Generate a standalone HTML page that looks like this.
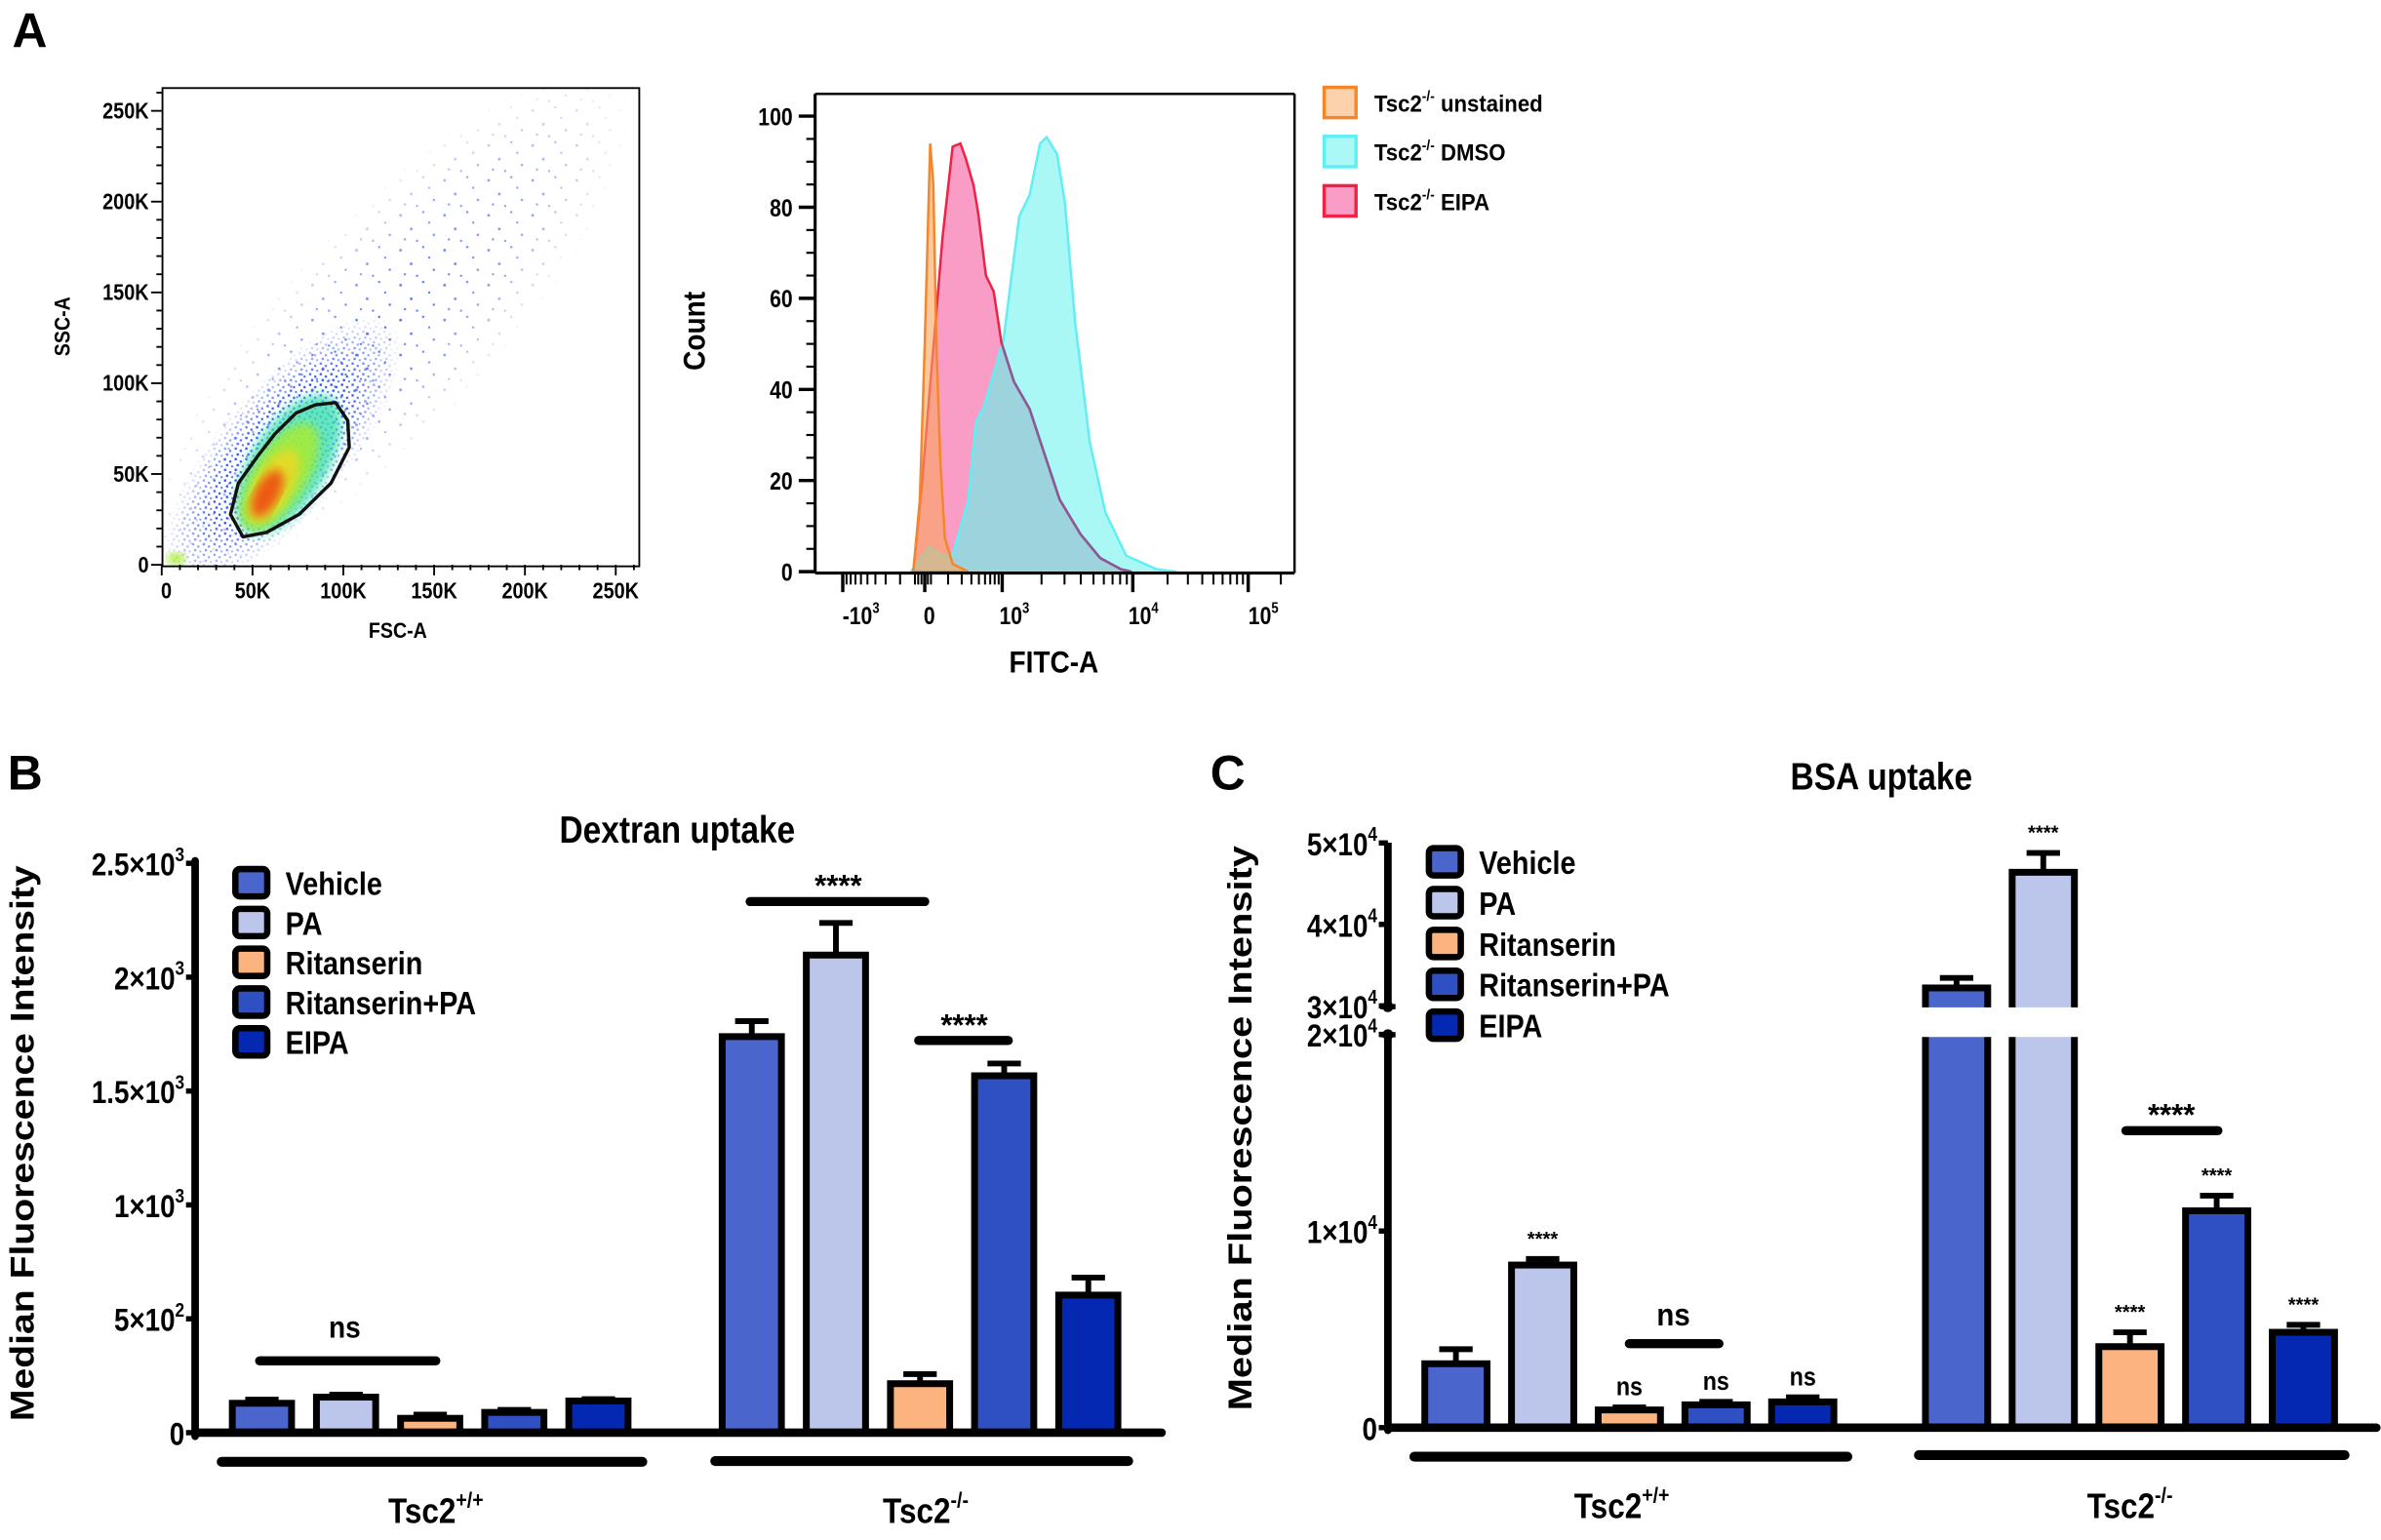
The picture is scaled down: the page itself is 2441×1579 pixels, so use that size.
<!DOCTYPE html>
<html><head><meta charset="utf-8"><style>
html,body{margin:0;padding:0;background:#fff;}
svg{display:block;}
text{font-family:"Liberation Sans",Arial,sans-serif;font-weight:bold;fill:#000;}
</style></head><body>
<svg id="fig" xmlns="http://www.w3.org/2000/svg" viewBox="0 0 1568 1014.3" width="2441" height="1579" preserveAspectRatio="none">
<defs>
<pattern id="densePat" width="7" height="7" patternUnits="userSpaceOnUse">
<rect x="0.5" y="0.7" width="1.5" height="1.5" fill="#2a4cf5"/><rect x="3.9" y="2.3" width="1.4" height="1.4" fill="#2a4cf5"/><rect x="1.8" y="4.6" width="1.5" height="1.5" fill="#2a4cf5"/><rect x="5.3" y="5.6" width="1.2" height="1.2" fill="#3c5cff"/>
</pattern>
<pattern id="sparsePat" width="29" height="23" patternUnits="userSpaceOnUse">
<rect x="2" y="3" width="1.6" height="1.6" fill="#2a4cf5"/><rect x="17" y="1" width="1.4" height="1.4" fill="#2a4cf5"/><rect x="9" y="12" width="1.6" height="1.6" fill="#2a4cf5"/><rect x="24" y="16" width="1.4" height="1.4" fill="#2a4cf5"/><rect x="5" y="19" width="1.3" height="1.3" fill="#2a4cf5"/><rect x="21" y="8" width="1.3" height="1.3" fill="#2a4cf5"/><rect x="13" y="20" width="1.3" height="1.3" fill="#2a4cf5"/>
</pattern>
<radialGradient id="fadeG"><stop offset="0" stop-color="#fff"/><stop offset="0.55" stop-color="#fff"/><stop offset="1" stop-color="#000"/></radialGradient>
<radialGradient id="fadeG2"><stop offset="0" stop-color="#ddd"/><stop offset="0.6" stop-color="#888"/><stop offset="1" stop-color="#000"/></radialGradient>
<mask id="denseMask"><ellipse cx="0" cy="0" rx="112" ry="42" fill="url(#fadeG)" transform="translate(186,297) rotate(-50)"/></mask>
<mask id="sparseMask"><ellipse cx="0" cy="0" rx="225" ry="70" fill="url(#fadeG2)" transform="translate(255,215) rotate(-47)"/></mask>
<filter id="blur3"><feGaussianBlur stdDeviation="3"/></filter>
<clipPath id="scatClip"><rect x="107" y="58" width="314" height="315"/></clipPath>
</defs>
</svg>
<script>
// ---------------- DATA ----------------
const histUnstainedX=[-0.14,-0.06,0,0.07,0.11,0.15,0.20,0.26,0.36,0.56];
const histUnstainedY=[0,15.8,50,94,85,50,24.5,7.3,1.7,0];
const histEipaX=[-0.14,-0.03,0.03,0.16,0.23,0.36,0.46,0.53,0.63,0.69,0.79,0.89,0.99,1.09,1.21,1.33,1.44,1.60,1.75,1.91,1.99];
const histEipaY=[0,20,33,59,73.5,93.3,94,90.7,84.8,78.7,65,61.5,50.3,41.7,35.7,25.3,15.8,8.2,3,0.5,0];
const histDmsoX=[-0.17,-0.04,0.06,0.18,0.27,0.36,0.56,0.66,0.76,1.01,1.13,1.21,1.29,1.34,1.42,1.48,1.56,1.67,1.79,1.95,2.21,2.38];
const histDmsoY=[0,3,5.5,4,3.5,3.6,15.6,33,36,51,78,82.7,94,95.4,91.7,81,54.3,28.5,13,3.5,0.5,0];
const histYTicks=[0,20,40,60,80,100];
const scatTicks=[0,50,100,150,200,250];
const scatTickLabels=['0','50K','100K','150K','200K','250K'];
const barCategories=['Vehicle','PA','Ritanserin','Ritanserin+PA','EIPA'];
const barColors=['#4a66cc','#bcc6ea','#fbb37f','#2f50c2','#0428b2'];
const dexWT=[129,156,63,89,139];
const dexWTerr=[16,11,16,11,8];
const dexKO=[1739,2097,215,1567,604];
const dexKOerr=[68,141,42,54,77];
const dexTicks=[0,500,1000,1500,2000,2500];
const dexTickBase=['0','5×10','1×10','1.5×10','2×10','2.5×10'];
const dexTickExp=['','2','3','3','3','3'];
const bsaWT=[3250,8270,900,1160,1310];
const bsaWTerr=[740,310,130,150,230];
const bsaKO=[32200,46400,4120,11030,4850];
const bsaKOerr=[1230,2370,730,770,380];
const bsaTicks=[0,10000,20000,30000,40000,50000];
const bsaTickBase=['0','1×10','2×10','3×10','4×10','5×10'];
const bsaTickExp=['','4','4','4','4','4'];
const bsaWTmarks=['','****','ns','ns','ns'];
const bsaKOmarks=['','****','****','****','****'];

// ---------------- HELPERS ----------------
const NS='http://www.w3.org/2000/svg';
const svg=document.getElementById('fig');
function mk(tag,a,p){const e=document.createElementNS(NS,tag);for(const k in a)e.setAttribute(k,a[k]);(p||svg).appendChild(e);return e;}
function txt(x,y,s,size,anchor,sx,sup,rest,rot){
  const g=mk('g',{transform:`translate(${x},${y})`+(rot?` rotate(${rot})`:'')+` scale(${sx},1)`});
  const t=mk('text',{x:0,y:0,'font-size':size,'text-anchor':anchor},g);
  t.appendChild(document.createTextNode(s));
  if(sup){const ts=mk('tspan',{dy:-size*0.45,'font-size':size*0.62},t);ts.textContent=sup;}
  if(rest){const tr=mk('tspan',{dy:size*0.45},t);tr.textContent=rest;}
  return g;
}
function line(x1,y1,x2,y2,w,c,cap){return mk('line',{x1,y1,x2,y2,stroke:c||'#000','stroke-width':w,'stroke-linecap':cap||'butt'});}

let g=txt(8,31,'A',32,'start',1);



// ---------------- SCATTER ----------------
const sx0=106.5, sy0=372, sPer=59.8/50;
const sX=v=>sx0+v*sPer, sY=v=>sy0-v*sPer;
const scat=mk('g',{'clip-path':'url(#scatClip)'});


mk('rect',{x:0,y:0,width:600,height:420,fill:'url(#sparsePat)',mask:'url(#sparseMask)'},scat);
mk('rect',{x:0,y:0,width:600,height:420,fill:'url(#densePat)',mask:'url(#denseMask)'},scat);
mk('ellipse',{cx:0,cy:0,rx:52,ry:25,fill:'#3ee0b0',opacity:0.8,filter:'url(#blur3)',transform:'translate(190,306) rotate(-58)'},scat);
mk('ellipse',{cx:0,cy:0,rx:40,ry:18,fill:'#a8ec30',opacity:0.85,filter:'url(#blur3)',transform:'translate(184,314) rotate(-58)'},scat);
mk('ellipse',{cx:0,cy:0,rx:27,ry:12,fill:'#f0d820',opacity:0.85,filter:'url(#blur3)',transform:'translate(180,320) rotate(-60)'},scat);
mk('ellipse',{cx:0,cy:0,rx:17,ry:8,fill:'#f03a10',opacity:0.8,filter:'url(#blur3)',transform:'translate(176,325) rotate(-62)'},scat);
mk('ellipse',{cx:116,cy:368,rx:6,ry:4,fill:'#a8ec30',filter:'url(#blur3)'},scat);
mk('rect',{x:107,y:58,width:314,height:315,fill:'none',stroke:'#000','stroke-width':1.2});
const gate=mk('path',{d:'M160,353.6 L151.8,338.8 L157,318.2 L170,300 L181,285.8 L195,272 L207.7,266.6 L221,265.2 L229,277 L230,294.6 L218,318.2 L197,338.8 L175.7,350.6 Z',fill:'none',stroke:'#111','stroke-width':2.2,'stroke-linejoin':'round'});


for(let v=0;v<=260;v+=10){
  const major=v%50===0;
  line(sx0-(major?7:3.5),sY(v),sx0,sY(v),1.2);
  line(sX(v),sy0,sX(v),sy0+(major?7:3.5),1.2);
}
scatTicks.forEach((v,i)=>{
  const a=txt(98,sY(v)+5,scatTickLabels[i],15,'end',0.85);
  
  
  const b=txt(sX(v)+(i===0?3:0),394,scatTickLabels[i],15,'middle',0.85);
  
  
});
g=txt(262,420,'FSC-A',14,'middle',0.9);


g=txt(46,215,'SSC-A',14,'middle',0.9,null,null,-90);



// ---------------- HISTOGRAM ----------------
const KU=[-1,0,1,2,3], KP=[555,609,660,746,822];
function xH(u){let i=0;if(u>=KU[3])i=3;else if(u>=KU[2])i=2;else if(u>=KU[1])i=1;else i=0;return KP[i]+(u-KU[i])*(KP[i+1]-KP[i]);}
const yH=c=>376.5-3*c;
function areaPath(xs,ys){let d=`M${xH(xs[0])},${yH(0)}`;xs.forEach((u,i)=>{d+=` L${xH(u)},${yH(ys[i])}`});d+=` L${xH(xs[xs.length-1])},${yH(0)} Z`;return d;}
function linePath(xs,ys){return xs.map((u,i)=>(i?'L':'M')+xH(u)+','+yH(ys[i])).join(' ');}
const defs=svg.querySelector('defs');
const cp=mk('clipPath',{id:'dmsoClip'},defs);
mk('path',{d:areaPath(histDmsoX,histDmsoY)},cp);
let h=mk('path',{d:areaPath(histDmsoX,histDmsoY),fill:'#a9f8f6'});


h=mk('path',{d:areaPath(histEipaX,histEipaY),fill:'#f99dc6'});


mk('path',{d:areaPath(histEipaX,histEipaY),fill:'#9dd3dc','clip-path':'url(#dmsoClip)'});
mk('path',{d:linePath(histDmsoX,histDmsoY),fill:'none',stroke:'#63eef4','stroke-width':1.6});
mk('path',{d:linePath(histEipaX,histEipaY),fill:'none',stroke:'#ee2244','stroke-width':1.6});
mk('path',{d:linePath(histEipaX,histEipaY),fill:'none',stroke:'#8a5a98','stroke-width':1.6,'clip-path':'url(#dmsoClip)'});
h=mk('path',{d:areaPath(histUnstainedX,histUnstainedY),fill:'rgba(250,165,95,0.6)',stroke:'#f5862a','stroke-width':1.6});


line(536.8,61.8,852.5,61.8,1.6);
line(852.5,61.8,852.5,377.4,1.6);
line(536.8,61.8,536.8,377.4,2);
line(536.8,377.4,852.5,377.4,2);
for(let c=0;c<=100;c+=5){const major=c%20===0;line(major?526:531,yH(c),536.8,yH(c),major?2.2:1.4);}
histYTicks.forEach(c=>{
  const a=txt(522,yH(c)+6,String(c),16,'end',0.85);
  
  
});
[-1,0,1,2,3].forEach(u=>line(xH(u),377.4,xH(u),390,2.2));
const minorU=[];
for(let k=2;k<10;k++){minorU.push(Math.log10(k));minorU.push(-Math.log10(k));minorU.push(1+Math.log10(k));minorU.push(2+Math.log10(k));}
[-0.12,-0.08,-0.04,0.04,0.08].forEach(u=>minorU.push(u));
minorU.forEach(u=>line(xH(u),377.4,xH(u),385,1.3));
line(843.5,377.4,843.5,385,1.3);
g=txt(567,411,'-10',16,'middle',0.85,'3');


g=txt(612,411,'0',16,'middle',0.85);


[['10','3',668],['10','4',753],['10','5',832]].forEach(a=>{
  const t=txt(a[2],411,a[0],16,'middle',0.85,a[1]);
  
  
});
g=txt(694,443,'FITC-A',20,'middle',0.9);


g=txt(464,218,'Count',20,'middle',0.9,null,null,-90);


[['#fcd2ad','#f5862a',' unstained',67.5],['#aaf9f7','#5ef0f5',' DMSO',99.8],['#f99dc6','#ee2244',' EIPA',132.3]].forEach(a=>{
  const r=mk('rect',{x:872,y:a[3]-10,width:21,height:20,fill:a[0],stroke:a[1],'stroke-width':2.2});
  
  
  const t=txt(905,a[3]+6,'Tsc2',15.5,'start',0.92,'-/-',a[2]);
  
  
});

// ---------------- BAR PANEL HELPER ----------------
function barPanel(o){
  o.ticks.forEach((v,i)=>{
    const y=o.y(v);
    line(o.axX-6,y,o.axX,y,3.5);
    const t=txt(o.axX-7,y+8,o.tickBase[i],21,'end',0.85,o.tickExp[i]||null);
    
    
  });
  const groups=[[o.wt,o.wtErr,o.g1],[o.ko,o.koErr,o.g2]];
  groups.forEach((grp,gi)=>{
    grp[0].forEach((v,i)=>{
      const x=grp[2]+i*o.pitch, y=o.y(v), ye=o.y(v+grp[1][i]);
      const cx=x+o.bw/2;
      const eb=line(cx,ye,cx,y,3.8);
      
      
      line(cx-o.cap/2,ye,cx+o.cap/2,ye,3.8);
      const r=mk('rect',{x:x+2,y:y,width:o.bw-4,height:o.base-y,fill:barColors[i],stroke:'#000','stroke-width':4.5});
      
      
      if(o.brk && v>o.brkVal){mk('rect',{x:x-3,y:o.brk[0],width:o.bw+6,height:o.brk[1]-o.brk[0],fill:'#fff'});}
    });
  });
  const ax=line(o.axX,o.base,o.axEnd,o.base,5.5,'#000','round');
  
  
  barCategories.forEach((c,i)=>{
    const y=o.legY+i*o.legStep;
    const r=mk('rect',{x:o.legX,y:y-9,width:21,height:18,rx:3,fill:barColors[i],stroke:'#000','stroke-width':4.2});
    
    
    const t=txt(o.legX+33,y+8,c,21.5,'start',0.86);
    
    
  });
  o.groupLines.forEach((gl,i)=>{
    const l=line(gl[0],gl[2],gl[1],gl[2],6.5,'#000','round');
    
    
    const t=txt(gl[3],gl[4],'Tsc2',23,'middle',0.88,i?'-/-':'+/+');
    
    
  });
}

// ---------------- PANEL B ----------------
g=txt(5,520,'B',32,'start',1);


g=txt(446,555,'Dextran uptake',25,'middle',0.86);


const yB=v=>943.6-v*0.15;
const yaxB=line(128.5,567,128.5,946,5,'#000','round');


barPanel({ticks:dexTicks,tickBase:dexTickBase,tickExp:dexTickExp,y:yB,axX:128.5,base:943.6,axEnd:765,
  wt:dexWT,wtErr:dexWTerr,ko:dexKO,koErr:dexKOerr,g1:151,g2:473.6,pitch:55.4,bw:43,cap:22,
  legX:155,legY:581.4,legStep:26.2,
  groupLines:[[146,423,962.8,287,1003],[471,743,962.3,609.6,1003]]});
g=txt(14,753,'Median Fluorescence Intensity',22,'middle',1,null,null,-90);


g.firstChild.setAttribute('textLength','366');
g.firstChild.setAttribute('lengthAdjust','spacingAndGlyphs');
g.firstChild.setAttribute('dy','8');
line(171,896.3,287,896.3,6,'#000','round');
txt(227,881,'ns',20,'middle',0.9);
line(494,593.8,609,593.8,6,'#000','round');
txt(552,590,'****',20,'middle',1);
line(605,685.3,664,685.3,6,'#000','round');
txt(635,682,'****',20,'middle',1);

// ---------------- PANEL C ----------------
g=txt(797,520,'C',32,'start',1);


g=txt(1239,520,'BSA uptake',25,'middle',0.86);


const yC=v=>v<=20000?940.3-v*0.01295:662.5-(v-30000)*0.005365;
line(914,555,914,663,5);
line(914,682,914,942,5,'#000','round');
mk('circle',{cx:914,cy:663,r:3.6,fill:'#000'});
mk('circle',{cx:914,cy:681.5,r:3.6,fill:'#000'});
line(909,663,919,663,3.5);
line(909,681.5,919,681.5,3.5);
barPanel({ticks:bsaTicks,tickBase:bsaTickBase,tickExp:bsaTickExp,y:yC,axX:914,base:940.3,axEnd:1565,
  wt:bsaWT,wtErr:bsaWTerr,ko:bsaKO,koErr:bsaKOerr,g1:936.3,g2:1266,pitch:57.1,bw:45,cap:22,
  brk:[663.5,683],brkVal:20000,
  legX:941,legY:567.6,legStep:26.9,
  groupLines:[[931.4,1216.6,959.4,1068,1000],[1263.7,1544,958.4,1402.6,1000]]});
g=txt(820,743,'Median Fluorescence Intensity',22,'middle',1,null,null,-90);


g.firstChild.setAttribute('textLength','372');
g.firstChild.setAttribute('lengthAdjust','spacingAndGlyphs');
g.firstChild.setAttribute('dy','4');
[[bsaWT,bsaWTerr,bsaWTmarks,936.3],[bsaKO,bsaKOerr,bsaKOmarks,1266]].forEach(G=>{
  G[0].forEach((v,i)=>{
    if(!G[2][i])return;
    const cx=G[3]+i*57.1+22.5, y=yC(v+G[1][i]);
    const isNs=G[2][i]==='ns';
    const t=txt(cx,y-(isNs?8:9),G[2][i],isNs?17:13,'middle',isNs?0.88:1);
    
    
  });
});
line(1073,885,1132,885,6,'#000','round');
txt(1102,873,'ns',21,'middle',0.9);
line(1400,744.7,1460.6,744.7,6,'#000','round');
txt(1430,741,'****',20,'middle',1);
</script>
</body></html>
